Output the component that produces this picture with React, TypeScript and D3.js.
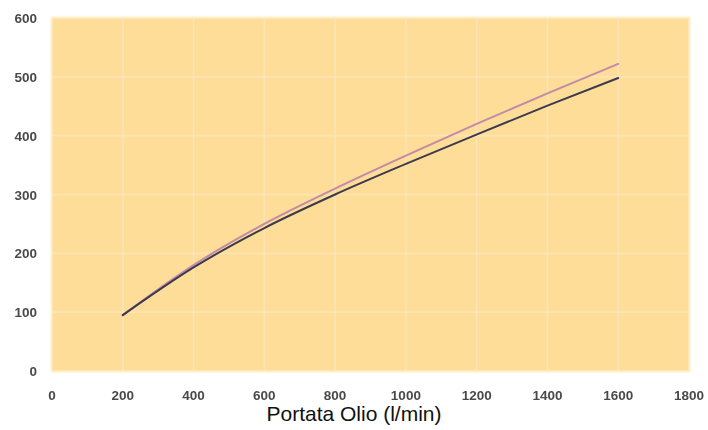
import React from "react";
import * as d3 from "d3";

const flowRates = [200, 400, 600, 800, 1000, 1200, 1400, 1600];
const seriesDark = [95, 176, 243, 300, 352, 402, 451, 498];
const seriesPink = [95, 180, 250, 310, 366, 420, 472, 522];
const xTicks = [0, 200, 400, 600, 800, 1000, 1200, 1400, 1600, 1800];
const yTicks = [0, 100, 200, 300, 400, 500, 600];
const xTitle = "Portata Olio (l/min)";

const W = 708;
const H = 430;
const left = 52;
const right = 689;
const top = 18;
const bottom = 371;

export default function App() {
  const x = d3.scaleLinear().domain([0, 1800]).range([left, right]);
  const y = d3.scaleLinear().domain([0, 600]).range([bottom, top]);
  const line = d3
    .line<number>()
    .x((_, i) => x(flowRates[i]))
    .y((d) => y(d))
    .curve(d3.curveMonotoneX);

  return (
    <svg
      width={W}
      height={H}
      style={{ position: "absolute", left: 0, top: 0, background: "#ffffff" }}
    >
      <defs>
        <filter id="soft" x="-5%" y="-5%" width="110%" height="110%">
          <feGaussianBlur stdDeviation="1.2" />
        </filter>
        <filter id="blurText" x="-10%" y="-20%" width="120%" height="140%">
          <feGaussianBlur stdDeviation="0.45" />
        </filter>
      </defs>
      <rect
        x={left - 1}
        y={top - 1}
        width={right - left + 2}
        height={bottom - top + 2}
        fill="#fde5b0"
        filter="url(#soft)"
      />
      <rect
        x={left + 1}
        y={top + 1}
        width={right - left - 2}
        height={bottom - top - 2}
        fill="#fddd97"
      />
      {xTicks.slice(1, -1).map((t) => (
        <line
          key={"gx" + t}
          x1={x(t)}
          x2={x(t)}
          y1={top + 1}
          y2={bottom - 1}
          stroke="#fde6c0"
          strokeWidth={1.6}
          opacity={0.75}
        />
      ))}
      {yTicks.slice(1, -1).map((t) => (
        <line
          key={"gy" + t}
          x1={left + 1}
          x2={right - 1}
          y1={y(t)}
          y2={y(t)}
          stroke="#fde6c0"
          strokeWidth={1.6}
          opacity={0.75}
        />
      ))}
      <path
        d={line(seriesPink) || ""}
        fill="none"
        stroke="#c48aa6"
        strokeWidth={2}
        strokeLinecap="round"
      />
      <path
        d={line(seriesDark) || ""}
        fill="none"
        stroke="#3b3a4e"
        strokeWidth={2}
        strokeLinecap="round"
      />
      <g filter="url(#blurText)">
        {yTicks.map((t) => (
          <text
            key={"ty" + t}
            x={37}
            y={y(t) + 5}
            textAnchor="end"
            fontFamily="Arial, Liberation Sans, sans-serif"
            fontSize={13.5}
            fontWeight="bold"
            fill="#4a4a4a"
          >
            {t}
          </text>
        ))}
        {xTicks.map((t) => (
          <text
            key={"tx" + t}
            x={x(t)}
            y={400}
            textAnchor="middle"
            fontFamily="Arial, Liberation Sans, sans-serif"
            fontSize={13.5}
            fontWeight="bold"
            fill="#4a4a4a"
          >
            {t}
          </text>
        ))}
      </g>
      <text
        x={354}
        y={421}
        textAnchor="middle"
        fontFamily="Arial, Liberation Sans, sans-serif"
        fontSize={21}
        fill="#111111"
      >
        {xTitle}
      </text>
    </svg>
  );
}
